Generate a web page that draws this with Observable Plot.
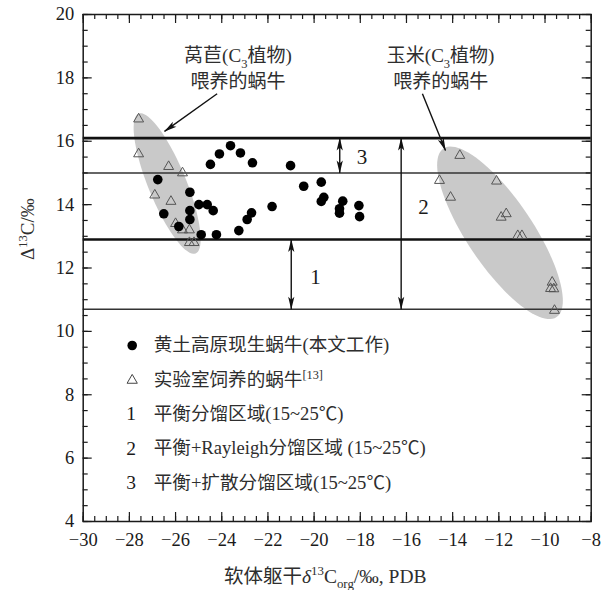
<!DOCTYPE html>
<html><head><meta charset="utf-8">
<script src="https://cdn.jsdelivr.net/npm/d3@7"></script>
<script src="https://cdn.jsdelivr.net/npm/@observablehq/plot@0.6"></script>
<style>body{margin:0;background:#fff;} #chart{width:611px;height:590px;}</style>
</head><body><div id="chart"></div>
<script>
// ---- data ----
const snailX = [-26.77,-26.51,-25.86,-25.38,-25.38,-25.38,-24.99,-24.63,-24.37,-24.89,-24.23,-23.26,-22.90,-22.71,-21.82,-24.49,-24.10,-23.62,-23.19,-22.67,-21.02,-20.45,-19.69,-19.58,-19.69,-18.76,-18.90,-18.90,-18.06,-18.03];
const snailY = [14.79,13.71,13.31,14.39,13.81,13.53,14.00,14.00,13.81,13.05,13.05,13.18,13.53,13.74,13.94,15.27,15.60,15.86,15.63,15.32,15.23,14.58,14.71,14.23,14.10,14.11,13.87,13.73,13.97,13.62];
const labX = [-27.6,-27.6,-26.3,-25.7,-26.9,-26.2,-26.0,-25.7,-25.4,-25.4,-25.2, -13.69,-14.57,-12.10,-14.09,-11.90,-11.68,-11.18,-11.00,-9.69,-9.62,-9.76,-9.59];
const labY = [16.7,15.6,15.2,15.0,14.3,14.1,13.4,13.2,13.2,12.8,12.8, 15.55,14.76,14.74,14.23,13.60,13.71,13.02,13.02,11.55,11.34,11.35,10.66];
const thickLines = [16.1, 12.9];
const thinLines = [15.0, 10.7];
// ellipses: two tips (data units) + half width (px)
const ellipseNames = ["lettuce", "corn"];
const ellipseTop = [[-27.6, 16.87], [-14.4, 15.77]];
const ellipseBottom = [[-25.13, 12.46], [-9.50, 10.45]];
const ellipseHalfWidth = [19, 33];
// double arrows
const rangeNames = ["1", "2", "3"];
const rangeX = [-20.99, -16.23, -18.89];
const rangeLo = [10.7, 10.7, 15.0];
const rangeHi = [12.9, 16.1, 16.1];
const rangeLabelX = [-19.94, -15.26, -17.93];
const rangeLabelY = [11.71, 13.91, 15.49];
// annotations
const noteLines1 = ["莴苣(C_{3}植物)", "玉米(C_{3}植物)"];
const noteLines2 = ["喂养的蜗牛", "喂养的蜗牛"];
const noteX = [-23.3, -14.52];
const noteY1 = [18.68, 18.68];
const noteY2 = [17.86, 17.86];
const pointerFrom = [[-24.2, 17.5], [-15.31, 17.5]];
const pointerTo = [[-26.48, 16.31], [-14.31, 15.71]];
// legend
const legendSymbols = ["dot", "triangle", "1", "2", "3"];
const legendLabels = ["黄土高原现生蜗牛(本文工作)", "实验室饲养的蜗牛^{[13]}", "平衡分馏区域(15~25℃)", "平衡+Rayleigh分馏区域 (15~25℃)", "平衡+扩散分馏区域(15~25℃)"];
const xMajor = d3.range(-30, -7.99, 2);
const xMinor = d3.range(-30, -7.99, 0.5);
const yMajor = d3.range(4, 20.01, 2);
const yMinor = d3.range(4, 20.01, 0.5);
const xTitle = "软体躯干*{δ}^{13}C_{org}/‰, PDB";
const yTitle = "Δ^{13}C/‰";

// ---- layout ----
const W = 611, H = 590, ML = 82.7, MR = 20.3, MT = 14, MB = 69;
const xDom = [-30, -8], yDom = [4, 20];
const kx = (W - ML - MR) / (xDom[1] - xDom[0]);
const ky = (H - MT - MB) / (yDom[1] - yDom[0]);
const FONT = "'Liberation Serif', 'Noto Sans CJK SC', serif";
const ink = "#1a1a1a";
const soft = "#2e2e2e";

const snails = snailX.map((x, i) => ({x, y: snailY[i]}));
const labs = labX.map((x, i) => ({x, y: labY[i]}));

function ellipsePts(i) {
  const p1 = [ellipseTop[i][0] * kx, -ellipseTop[i][1] * ky];
  const p2 = [ellipseBottom[i][0] * kx, -ellipseBottom[i][1] * ky];
  const cx = (p1[0] + p2[0]) / 2, cy = (p1[1] + p2[1]) / 2;
  const dx = (p1[0] - p2[0]) / 2, dy = (p1[1] - p2[1]) / 2;
  const a = Math.hypot(dx, dy), ux = dx / a, uy = dy / a, vx = -uy, vy = ux;
  const b = ellipseHalfWidth[i];
  return d3.range(96).map(j => {
    const t = j / 96 * 2 * Math.PI;
    const px = cx + a * Math.cos(t) * ux + b * Math.sin(t) * vx;
    const py = cy + a * Math.cos(t) * uy + b * Math.sin(t) * vy;
    return {x: px / kx, y: -py / ky, id: ellipseNames[i]};
  });
}
const ellipses = ellipseNames.flatMap((_, i) => ellipsePts(i));

const ranges = rangeNames.map((n, i) => ({x: rangeX[i], lo: rangeLo[i], hi: rangeHi[i]}));
const rangeLabels = rangeNames.map((t, i) => ({t, x: rangeLabelX[i], y: rangeLabelY[i]}));
const notes = noteX.flatMap((x, i) => [{t: noteLines1[i], x, y: noteY1[i]}, {t: noteLines2[i], x, y: noteY2[i]}]);
const pointers = pointerFrom.map((p, i) => ({x1: p[0], y1: p[1], x2: pointerTo[i][0], y2: pointerTo[i][1]}));

const tl = 9 / ky, tlm = 5 / ky, tlx = 9 / kx, tlxm = 5 / kx;

const legendMarks = legendSymbols.flatMap((s, i) => {
  const dy = 331 + i * 34.3;
  const sym = s === "dot"
    ? Plot.dot([0], {frameAnchor: "top-left", dx: 49, dy, r: 4.8, fill: "#000"})
    : s === "triangle"
    ? Plot.dot([0], {frameAnchor: "top-left", dx: 49, dy: dy + 0.5, r: 3.8, symbol: "triangle", stroke: "#444", strokeWidth: 1, fill: "none"})
    : Plot.text([s], {frameAnchor: "top-left", dx: 48, dy, text: d => d, fontSize: 19.5, fill: ink, textAnchor: "middle", lineAnchor: "middle", fontFamily: FONT});
  return [sym, Plot.text([legendLabels[i]], {frameAnchor: "top-left", dx: 70.5, dy, text: d => d, fontSize: 18.6, fill: soft, textAnchor: "start", lineAnchor: "middle", fontFamily: FONT})];
});

const chart = Plot.plot({
  width: W, height: H,
  marginLeft: ML, marginRight: MR, marginTop: MT, marginBottom: MB,
  style: {fontFamily: FONT, fontSize: "18px", background: "#fff", color: ink},
  x: {domain: xDom},
  y: {domain: yDom},
  marks: [
    Plot.line(ellipses, {x: "x", y: "y", z: "id", fill: "#c9c9c9", stroke: "none", curve: "linear-closed"}),
    Plot.ruleY(thinLines, {stroke: "#333", strokeWidth: 1.4}),
    Plot.ruleY(thickLines, {stroke: "#111", strokeWidth: 2.7}),
    Plot.link(ranges, {x1: "x", x2: "x", y1: "lo", y2: "hi", stroke: "#111", strokeWidth: 1.4, markerStart: "arrow", markerEnd: "arrow"}),
    Plot.link(pointers, {x1: "x1", y1: "y1", x2: "x2", y2: "y2", stroke: "#111", strokeWidth: 1.4, markerEnd: "arrow"}),
    Plot.dot(labs, {x: "x", y: "y", symbol: "triangle", r: 3.7, stroke: "#555", strokeWidth: 1, fill: "none"}),
    Plot.dot(snails, {x: "x", y: "y", r: 4.8, fill: "#000"}),
    Plot.text(rangeLabels, {x: "x", y: "y", text: "t", fontSize: 21, fill: ink, fontFamily: FONT}),
    Plot.text(notes, {x: "x", y: "y", text: "t", fontSize: 19, fill: soft, fontFamily: FONT}),
    // ticks (inward, on all four sides)
    Plot.ruleX(xMinor, {x: d => d, y1: yDom[0], y2: yDom[0] + tlm, stroke: ink, strokeWidth: 1.2}),
    Plot.ruleX(xMajor, {x: d => d, y1: yDom[0], y2: yDom[0] + tl, stroke: ink, strokeWidth: 1.2}),
    Plot.ruleX(xMinor, {x: d => d, y1: yDom[1], y2: yDom[1] - tlm, stroke: ink, strokeWidth: 1.2}),
    Plot.ruleX(xMajor, {x: d => d, y1: yDom[1], y2: yDom[1] - tl, stroke: ink, strokeWidth: 1.2}),
    Plot.ruleY(yMinor, {y: d => d, x1: xDom[0], x2: xDom[0] + tlxm, stroke: ink, strokeWidth: 1.2}),
    Plot.ruleY(yMajor, {y: d => d, x1: xDom[0], x2: xDom[0] + tlx, stroke: ink, strokeWidth: 1.2}),
    Plot.ruleY(yMinor, {y: d => d, x1: xDom[1], x2: xDom[1] - tlxm, stroke: ink, strokeWidth: 1.2}),
    Plot.ruleY(yMajor, {y: d => d, x1: xDom[1], x2: xDom[1] - tlx, stroke: ink, strokeWidth: 1.2}),
    Plot.axisX(xMajor, {anchor: "bottom", tickSize: 0, tickPadding: 11, fontSize: 18.5, fontFamily: FONT, fill: ink, label: null}),
    Plot.axisY(yMajor, {anchor: "left", tickSize: 0, tickPadding: 9, fontSize: 18.5, fontFamily: FONT, fill: ink, label: null}),
    Plot.frame({stroke: ink, strokeWidth: 1.5}),
    Plot.text([xTitle], {frameAnchor: "bottom", dx: -12, dy: 55, text: d => d, fontSize: 19.5, fill: soft, lineAnchor: "middle", fontFamily: FONT}),
    Plot.text([yTitle], {frameAnchor: "left", dx: -55, dy: -8, rotate: -90, text: d => d, fontSize: 19, fill: soft, lineAnchor: "middle", fontFamily: FONT}),
    ...legendMarks
  ]
});
document.getElementById("chart").appendChild(chart);

// slender filled arrowheads for link markers
const startIds = new Set();
chart.querySelectorAll("[marker-start]").forEach(el => {
  const m = /#([^)]+)\)/.exec(el.getAttribute("marker-start"));
  if (m) startIds.add(m[1]);
});
chart.querySelectorAll("marker").forEach(mk => {
  mk.setAttribute("viewBox", "-13 -4 14 8");
  mk.setAttribute("markerUnits", "userSpaceOnUse");
  mk.setAttribute("markerWidth", "14");
  mk.setAttribute("markerHeight", "8");
  mk.setAttribute("refX", "0");
  mk.setAttribute("refY", "0");
  mk.setAttribute("orient", startIds.has(mk.id) ? "auto-start-reverse" : "auto");
  mk.setAttribute("fill", "#111");
  mk.setAttribute("stroke", "none");
  mk.querySelectorAll("path").forEach(p => {
    p.setAttribute("d", "M-12.5,-3.1L0.5,0L-12.5,3.1L-9.5,0Z");
    p.setAttribute("fill", "#111");
    p.setAttribute("stroke", "none");
  });
});

// rich text: _{sub} ^{sup} *{italic}
function richify(svg) {
  svg.querySelectorAll("text").forEach(t => {
    const s = t.textContent;
    if (!/[_^*]\{/.test(s)) return;
    const fs = parseFloat(getComputedStyle(t).fontSize) || 18;
    const re = /([_^*])\{([^}]*)\}/g;
    const parts = []; let last = 0, m;
    while ((m = re.exec(s))) {
      if (m.index > last) parts.push({k: "", v: s.slice(last, m.index)});
      parts.push({k: m[1], v: m[2]});
      last = re.lastIndex;
    }
    if (last < s.length) parts.push({k: "", v: s.slice(last)});
    while (t.firstChild) t.removeChild(t.firstChild);
    let cur = 0;
    const NS = "http://www.w3.org/2000/svg";
    parts.forEach(p => {
      const ts = document.createElementNS(NS, "tspan");
      let target = 0;
      if (p.k === "_") { target = 0.28 * fs; ts.setAttribute("font-size", (0.66 * fs).toFixed(1)); }
      if (p.k === "^") { target = -0.38 * fs; ts.setAttribute("font-size", (0.66 * fs).toFixed(1)); }
      if (p.k === "*") { ts.setAttribute("font-style", "italic"); }
      if (target !== cur) ts.setAttribute("dy", (target - cur).toFixed(2));
      cur = target;
      ts.textContent = p.v;
      t.appendChild(ts);
    });
  });
}
richify(chart);
</script>
</body></html>
